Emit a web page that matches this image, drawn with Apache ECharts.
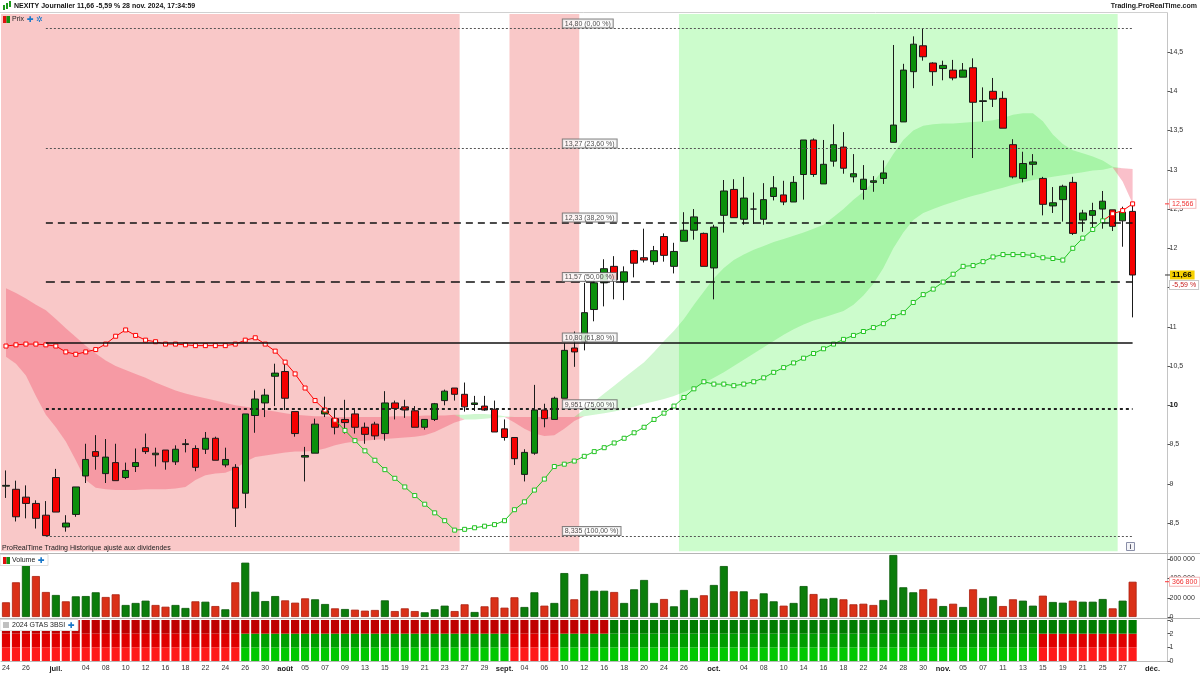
<!DOCTYPE html>
<html>
<head>
<meta charset="utf-8">
<title>NEXITY Journalier</title>
<script src="https://cdn.jsdelivr.net/npm/echarts@6/dist/echarts.min.js"></script>
<style>
html, body { margin: 0; padding: 0; background: #fff; }
#chart { width: 1200px; height: 675px; }
</style>
</head>
<body>
<div id="chart"></div>
<script>
// trading days (+ the 3 empty future slots on the right)
const dates = ['06-24','06-25','06-26','06-27','06-28',
  '07-01','07-02','07-03','07-04','07-05','07-08','07-09','07-10','07-11','07-12','07-15','07-16','07-17','07-18','07-19','07-22','07-23','07-24','07-25','07-26','07-29','07-30','07-31',
  '08-01','08-02','08-05','08-06','08-07','08-08','08-09','08-12','08-13','08-14','08-15','08-16','08-19','08-20','08-21','08-22','08-23','08-26','08-27','08-28','08-29','08-30',
  '09-02','09-03','09-04','09-05','09-06','09-09','09-10','09-11','09-12','09-13','09-16','09-17','09-18','09-19','09-20','09-23','09-24','09-25','09-26','09-27','09-30',
  '10-01','10-02','10-03','10-04','10-07','10-08','10-09','10-10','10-11','10-14','10-15','10-16','10-17','10-18','10-21','10-22','10-23','10-24','10-25','10-28','10-29','10-30','10-31',
  '11-01','11-04','11-05','11-06','11-07','11-08','11-11','11-12','11-13','11-14','11-15','11-18','11-19','11-20','11-21','11-22','11-25','11-26','11-27','11-28','11-29',
  '12-02','12-03'];

// dates that carry a tick label
const tickDates = ['06-24','06-26','07-01','07-04','07-08','07-10','07-12','07-16','07-18','07-22','07-24','07-26','07-30',
  '08-01','08-05','08-07','08-09','08-13','08-15','08-19','08-21','08-23','08-27','08-29',
  '09-02','09-04','09-06','09-10','09-12','09-16','09-18','09-20','09-24','09-26',
  '10-01','10-04','10-08','10-10','10-14','10-16','10-18','10-22','10-24','10-28','10-30',
  '11-01','11-05','11-07','11-11','11-13','11-15','11-19','11-21','11-25','11-27','12-02'];
const monthDates = ['07-01','08-01','09-02','10-01','11-01','12-02'];
const monthNames = ['juil.','août','sept.','oct.','nov.','déc.'];

const opens = [8.97,8.93,8.83,8.75,8.60,9.08,8.45,8.61,9.10,9.41,
  9.13,9.27,9.08,9.22,9.46,9.37,9.43,9.28,9.50,9.45,
  9.44,9.58,9.24,9.21,8.88,9.87,10.03,10.37,10.43,9.92,
  9.34,9.39,9.89,9.83,9.82,9.89,9.72,9.76,9.64,10.03,
  9.98,9.93,9.72,9.82,10.06,10.22,10.14,10.01,9.99,9.95,
  9.70,9.59,9.12,9.39,9.94,9.82,10.09,10.73,10.81,11.22,
  11.56,11.77,11.57,11.97,11.88,11.83,12.15,11.77,12.09,12.23,
  12.19,11.75,12.42,12.75,12.37,12.50,12.37,12.66,12.68,12.59,
  12.94,13.38,12.82,13.11,13.29,12.91,12.75,12.84,12.89,13.35,
  13.61,14.25,14.58,14.36,14.29,14.27,14.18,14.30,13.87,14.00,
  13.91,13.32,12.89,13.07,12.89,12.54,12.62,12.84,12.36,12.42,
  12.50,12.49,12.35,12.47];
const closes = [8.98,8.58,8.75,8.56,8.34,8.64,8.50,8.96,9.31,9.35,
  9.34,9.04,9.17,9.27,9.41,9.39,9.28,9.44,9.51,9.21,
  9.58,9.30,9.31,8.69,9.89,10.08,10.13,10.41,10.09,9.64,
  9.36,9.76,9.93,9.72,9.78,9.72,9.63,9.61,10.03,9.96,
  9.94,9.72,9.82,10.02,10.18,10.14,9.98,10.03,9.94,9.66,
  9.59,9.32,9.40,9.94,9.83,10.09,10.70,10.68,11.18,11.56,
  11.74,11.60,11.70,11.81,11.85,11.97,11.91,11.96,12.23,12.40,
  11.77,12.27,12.73,12.39,12.64,12.50,12.62,12.77,12.59,12.84,
  13.38,12.94,13.07,13.32,13.02,12.95,12.88,12.86,12.96,13.57,
  14.27,14.60,14.44,14.25,14.33,14.17,14.27,13.86,13.88,13.90,
  13.53,12.91,13.08,13.10,12.56,12.58,12.79,12.19,12.45,12.48,
  12.60,12.28,12.46,11.66];
const lows = [8.82,8.52,8.56,8.43,8.335,8.64,8.39,8.58,9.01,9.18,
  9.01,9.04,9.06,9.15,9.38,9.22,9.18,9.24,9.40,9.16,
  9.38,9.30,9.21,8.45,8.69,9.65,9.85,9.99,9.94,9.60,
  9.03,9.39,9.85,9.63,9.64,9.64,9.51,9.56,9.55,9.82,
  9.84,9.72,9.69,9.80,10.00,10.06,9.92,9.93,9.93,9.66,
  9.55,9.24,9.03,9.37,9.72,9.82,10.09,10.49,10.70,11.07,
  11.26,11.35,11.34,11.63,11.82,11.79,11.83,11.68,12.09,12.11,
  11.77,11.35,12.20,12.39,12.30,12.31,12.30,12.61,12.55,12.59,
  12.62,12.91,12.82,13.04,12.95,12.84,12.62,12.72,12.82,13.35,
  13.61,14.04,14.39,14.07,14.14,14.14,14.18,13.15,13.61,13.80,
  13.53,12.89,12.84,12.93,12.42,12.45,12.34,12.17,12.21,12.25,
  12.25,12.22,12.02,11.12];
const highs = [9.17,9.04,8.98,8.79,8.78,9.19,8.60,8.96,9.51,9.62,
  9.57,9.51,9.27,9.45,9.64,9.46,9.43,9.49,9.57,9.49,
  9.66,9.60,9.46,9.25,9.89,10.19,10.21,10.53,10.53,9.92,
  9.47,9.83,10.11,9.94,10.07,9.96,9.78,9.79,10.18,10.06,
  10.07,9.99,9.82,10.03,10.20,10.22,10.29,10.12,10.12,10.06,
  9.82,9.59,9.44,10.26,10.02,10.11,10.79,10.94,11.56,11.60,
  11.86,11.90,11.77,11.98,12.25,12.03,12.19,12.07,12.46,12.50,
  12.20,12.30,12.87,12.88,12.91,12.71,12.83,12.92,12.86,12.92,
  13.38,13.40,13.38,13.58,13.48,13.20,13.06,12.92,13.12,14.59,
  14.35,14.70,14.80,14.37,14.39,14.40,14.36,14.42,14.05,14.17,
  14.00,13.39,13.23,13.20,12.91,12.78,12.81,12.91,12.49,12.58,
  12.73,12.49,12.53,12.59];
const prevClose = 9.05; // close of the session before the first candle

const volumes = [153000,361000,541000,426000,260000,229000,163000,215000,218000,257000,
  208000,236000,125000,146000,170000,125000,107000,125000,94000,163000,
  159000,114000,80000,361000,565000,263000,166000,218000,173000,149000,
  194000,184000,135000,90000,83000,76000,66000,73000,173000,62000,
  90000,62000,49000,80000,118000,62000,132000,52000,111000,205000,
  97000,205000,104000,257000,118000,146000,457000,184000,447000,273000,
  273000,260000,146000,288000,385000,146000,187000,111000,281000,198000,
  226000,333000,530000,267000,267000,184000,246000,163000,118000,146000,
  322000,239000,191000,198000,184000,132000,138000,125000,177000,645000,
  309000,257000,288000,191000,114000,138000,104000,288000,198000,215000,
  114000,184000,170000,118000,222000,156000,149000,170000,159000,159000,
  187000,90000,170000,366800];

// trailing line (red above price, green below)
const trail = [10.755,10.77,10.78,10.78,10.77,10.755,10.68,10.65,10.68,10.71,
  10.78,10.88,10.96,10.89,10.83,10.81,10.78,10.78,10.77,10.76,
  10.76,10.76,10.76,10.78,10.83,10.86,10.78,10.69,10.55,10.40,
  10.22,10.06,9.94,9.81,9.68,9.55,9.42,9.30,9.18,9.07,
  8.96,8.85,8.74,8.63,8.53,8.41,8.42,8.44,8.46,8.48,
  8.53,8.67,8.77,8.92,9.06,9.22,9.25,9.29,9.35,9.41,
  9.46,9.52,9.58,9.65,9.72,9.82,9.90,9.99,10.10,10.21,
  10.30,10.27,10.27,10.25,10.27,10.30,10.35,10.42,10.48,10.54,
  10.60,10.66,10.72,10.78,10.84,10.89,10.94,10.99,11.04,11.13,
  11.18,11.31,11.41,11.48,11.57,11.67,11.77,11.78,11.83,11.89,
  11.92,11.92,11.92,11.91,11.88,11.87,11.85,12.00,12.13,12.24,
  12.35,12.44,12.48,12.566];
const trailRed = [[0, 33], [111, 113]];

// cloud edges
const cloudTop = [11.49,11.43,11.36,11.28,11.21,11.10,10.98,10.87,10.76,10.66,
  10.57,10.50,10.45,10.40,10.35,10.29,10.24,10.19,10.15,10.12,
  10.09,10.06,10.03,10.00,9.98,9.96,9.94,9.92,9.90,9.88,
  9.87,9.86,9.86,9.85,9.85,9.85,9.85,9.85,9.85,9.86,
  9.86,9.86,9.87,9.87,9.87,9.88,9.88,9.89,9.89,9.88,
  9.86,9.85,9.85,9.85,9.85,9.85,9.85,9.85,9.95,10.05,
  10.15,10.25,10.35,10.45,10.55,10.68,10.82,10.95,11.10,11.28,
  11.45,11.62,11.75,11.85,11.92,11.98,12.03,12.08,12.12,12.16,
  12.20,12.25,12.30,12.40,12.50,12.62,12.72,12.85,13.00,13.20,
  13.38,13.50,13.56,13.58,13.59,13.59,13.60,13.61,13.62,13.63,
  13.66,13.70,13.72,13.72,13.62,13.45,13.33,13.25,13.21,13.17,
  13.12,13.04,13.02,13.01];
const cloudBot = [10.62,10.53,10.38,10.12,9.88,9.72,9.54,9.30,9.05,8.95,
  8.93,8.92,8.92,8.92,8.93,8.93,8.93,8.94,8.96,9.05,
  9.11,9.13,9.14,9.19,9.28,9.34,9.36,9.38,9.40,9.41,
  9.41,9.42,9.45,9.49,9.52,9.54,9.55,9.56,9.57,9.58,
  9.59,9.60,9.62,9.66,9.72,9.78,9.82,9.82,9.83,9.84,
  9.85,9.78,9.70,9.64,9.61,9.62,9.70,9.80,9.86,9.88,
  9.90,9.92,9.95,9.98,10.02,10.05,10.08,10.12,10.17,10.22,
  10.28,10.35,10.42,10.50,10.58,10.66,10.74,10.82,10.90,10.97,
  11.03,11.08,11.12,11.16,11.20,11.28,11.40,11.55,11.75,12.00,
  12.20,12.36,12.45,12.50,12.55,12.59,12.63,12.67,12.70,12.74,
  12.77,12.81,12.84,12.87,12.89,12.91,12.93,12.95,12.97,12.99,
  13.00,13.03,12.85,12.57];
const cloudGreen = [[46, 50], [58, 111]];

// background zones (day index ranges)
const bgPink = [[0, 45], [51, 57]];
const bgGreen = [[68, 111]];

// 2024 GTAS 3BSI: ranges where each row is red
const gtasTopRed = [[0, 60]];
const gtasLowRed = [[0, 23], [51, 55], [104, 113]];

// Fibonacci retracement
const fibValues = [14.80, 13.27, 12.33, 11.57, 10.80, 9.951, 8.335];
const fibLabels = ['14,80 (0,00 %)', '13,27 (23,60 %)', '12,33 (38,20 %)', '11,57 (50,00 %)',
  '10,80 (61,80 %)', '9,951 (75,00 %)', '8,335 (100,00 %)'];
const fibFrom = 4, fibTo = 113, fibLabelAt = 56;

const lastPrice = 11.66;
const lastPriceText = '11,66';
const lastPctText = '-5,59 %';
const trailLast = 12.566;
const trailLastText = '12,566';
const lastVolume = 366800;
const lastVolumeText = '366 800';

// ---------------------------------------------------------------
const FONT = '"Liberation Sans", Arial, sans-serif';
const N = closes.length;
const chart = echarts.init(document.getElementById('chart'));

function inRanges(i, ranges) {
  return ranges.some(r => i >= r[0] && i <= r[1]);
}

const fibStyles = [
  {type: [2, 2], color: '#555', width: 1},
  {type: [2, 2], color: '#555', width: 1},
  {type: [7, 5], color: '#111', width: 1.5},
  {type: [9, 6], color: '#111', width: 1.5},
  {type: 'solid', color: '#111', width: 1.5},
  {type: [3, 3], color: '#222', width: 2},
  {type: [2, 2], color: '#555', width: 1}
];

// price panel vertical extent (the price axis runs 8..15 under the other panels)
const panelLow = 8.14, panelHigh = 14.985;
const bgZoneData = bgPink.map(r => [r[0], r[1], panelLow, panelHigh, 0])
  .concat(bgGreen.map(r => [r[0], r[1], panelLow, panelHigh, 1]));
const bgZoneColors = ['#f9c8c8', '#ccfccc'];

const cloudPinkH = [], cloudGreenH = [];
const trailRedData = [], trailGreenData = [];
const volData = [];
const gtasTop = [], gtasMid = [], gtasBot = [];

for (let i = 0; i < N; i++) {
  const w = +(cloudTop[i] - cloudBot[i]).toFixed(3);
  const g = inRanges(i, cloudGreen);
  cloudPinkH.push(g ? 0 : w);
  cloudGreenH.push(g ? w : 0);

  const red = inRanges(i, trailRed);
  const nextRed = i + 1 < N && inRanges(i + 1, trailRed);
  if (red) trailRedData.push(trail[i]);
  else if (nextRed) trailRedData.push({value: trail[i], symbol: 'none'});
  else trailRedData.push('-');
  if (!red) trailGreenData.push(trail[i]);
  else if (i + 1 < N && !nextRed) trailGreenData.push({value: trail[i], symbol: 'none'});
  else trailGreenData.push('-');

  const up = closes[i] >= (i === 0 ? prevClose : closes[i - 1]);
  volData.push({value: volumes[i], itemStyle: {
    color: up ? '#0b7d0b' : '#da3118', borderColor: up ? '#065806' : '#a9200f', borderWidth: 0.8}});

  const topRed = inRanges(i, gtasTopRed), lowRed = inRanges(i, gtasLowRed);
  gtasTop.push({value: 1, itemStyle: {color: topRed ? '#bf0000' : '#007c00'}});
  gtasMid.push({value: 1, itemStyle: {color: lowRed ? '#e00000' : '#009e00'}});
  gtasBot.push({value: 1, itemStyle: {color: lowRed ? '#ff1a1a' : '#00c800'}});
}

const candleData = opens.map((o, i) => [o, closes[i], lows[i], highs[i]]);

function fmtPrice(v) {
  const r = Math.round(v * 10) / 10;
  if (r === 10) return '{b|10}';
  return (Number.isInteger(r) ? String(r) : r.toFixed(1)).replace('.', ',');
}
function fmtVol(v) {
  return String(Math.round(v)).replace(/\B(?=(\d{3})+(?!\d))/g, ' ');
}

const gridCommon = {left: 1, right: 32.5, outerBoundsMode: 'none', containLabel: false};
const yCommon = {
  type: 'value', position: 'right', splitLine: {show: false},
  axisLine: {show: true, lineStyle: {color: '#c4c4c4'}},
  axisTick: {show: true, length: 3, lineStyle: {color: '#555'}},
  axisLabel: {fontSize: 7, color: '#333', margin: 2, fontFamily: FONT}
};

const option = {
  animation: false,
  backgroundColor: '#fff',
  textStyle: {fontFamily: FONT},
  grid: [
    Object.assign({top: 12.8, bottom: 112.7}, gridCommon),
    Object.assign({top: 554.5, height: 62.5}, gridCommon),
    Object.assign({top: 620, height: 41}, gridCommon)
  ],
  xAxis: [0, 1, 2].map(g => ({
    type: 'category', gridIndex: g, data: dates, boundaryGap: true, show: g === 2,
    axisTick: {show: false},
    axisLine: {show: true, lineStyle: {color: '#bbb'}},
    axisLabel: {
      interval: 0, fontSize: 7, color: '#333', margin: 4, fontFamily: FONT,
      formatter: val => {
        const m = monthDates.indexOf(val);
        if (m >= 0) return '{b|' + monthNames[m] + '}';
        return tickDates.indexOf(val) >= 0 ? val.slice(3) : '';
      },
      rich: {b: {fontWeight: 'bold', fontSize: 7.5, color: '#222', fontFamily: FONT}}
    }
  })),
  yAxis: [
    Object.assign({}, yCommon, {gridIndex: 0, min: 8, max: 15, interval: 0.5,
      axisLabel: Object.assign({}, yCommon.axisLabel, {showMinLabel: false, showMaxLabel: false,
        formatter: fmtPrice, rich: {b: {fontWeight: 'bold', fontSize: 7.5, color: '#111'}}})}),
    Object.assign({}, yCommon, {gridIndex: 1, min: 0, max: 650000, interval: 200000,
      axisLabel: Object.assign({}, yCommon.axisLabel, {showMaxLabel: false, formatter: fmtVol})}),
    Object.assign({}, yCommon, {gridIndex: 2, min: 0, max: 3, interval: 1,
      axisLabel: Object.assign({}, yCommon.axisLabel)})
  ],
  series: [
    {name: 'zones', type: 'custom', xAxisIndex: 0, yAxisIndex: 0, z: 0, silent: true,
      data: bgZoneData, encode: {x: [0, 1], y: [2, 3]},
      renderItem: (params, api) => {
        const a = api.coord([api.value(0), api.value(3)]);
        const b = api.coord([api.value(1), api.value(2)]);
        const band = api.size([1, 0])[0];
        return {type: 'rect', silent: true,
          shape: {x: a[0] - band / 2, y: a[1], width: b[0] - a[0] + band, height: b[1] - a[1]},
          style: {fill: bgZoneColors[api.value(4)]}};
      }},
    {name: 'cloudBase', type: 'line', xAxisIndex: 0, yAxisIndex: 0, stack: 'cloud', data: cloudBot,
      symbol: 'none', lineStyle: {width: 0, opacity: 0}, z: 1, silent: true},
    {name: 'cloudPink', type: 'line', xAxisIndex: 0, yAxisIndex: 0, stack: 'cloud', data: cloudPinkH,
      symbol: 'none', lineStyle: {width: 0, opacity: 0}, z: 1, silent: true,
      areaStyle: {color: 'rgba(238,60,90,0.32)', opacity: 1}},
    {name: 'cloudGreen', type: 'line', xAxisIndex: 0, yAxisIndex: 0, stack: 'cloud', data: cloudGreenH,
      symbol: 'none', lineStyle: {width: 0, opacity: 0}, z: 1, silent: true,
      areaStyle: {color: 'rgba(20,215,20,0.2)', opacity: 1}},
    {name: 'Prix', type: 'candlestick', xAxisIndex: 0, yAxisIndex: 0, data: candleData,
      barWidth: 7, z: 3,
      itemStyle: {color: '#0c8f0c', color0: '#f50000', borderColor: '#1b1b1b', borderColor0: '#1b1b1b', borderWidth: 1},
      markLine: {
        silent: true, symbol: ['none', 'none'], label: {show: false}, animation: false,
        data: fibValues.map((v, k) => [
          {coord: [fibFrom, v], lineStyle: fibStyles[k]},
          {coord: [fibTo, v]}
        ])
      }},
    {name: 'trailRed', type: 'line', xAxisIndex: 0, yAxisIndex: 0, data: trailRedData, z: 4,
      symbol: 'rect', symbolSize: 4, showAllSymbol: true,
      lineStyle: {color: '#f00', width: 1},
      itemStyle: {color: '#fff', borderColor: '#f00', borderWidth: 1}},
    {name: 'trailGreen', type: 'line', xAxisIndex: 0, yAxisIndex: 0, data: trailGreenData, z: 4,
      symbol: 'rect', symbolSize: 4, showAllSymbol: true,
      lineStyle: {color: '#22c322', width: 1},
      itemStyle: {color: '#fff', borderColor: '#22c322', borderWidth: 1}},
    {name: 'fibLabels', type: 'scatter', xAxisIndex: 0, yAxisIndex: 0, z: 10, silent: true,
      symbolSize: 0, data: fibValues.map(v => [fibLabelAt, v]),
      label: {show: true, position: [-1.5, -1], align: 'left', verticalAlign: 'bottom',
        formatter: p => fibLabels[p.dataIndex], fontSize: 7, color: '#222', fontFamily: FONT,
        backgroundColor: '#fff', borderColor: '#666', borderWidth: 1, padding: [1, 2, 0, 2]}},
    {name: 'Volume', type: 'bar', xAxisIndex: 1, yAxisIndex: 1, data: volData, barWidth: 8},
    {name: 'gtas0', type: 'bar', xAxisIndex: 2, yAxisIndex: 2, stack: 'g', data: gtasBot, barWidth: 8.2},
    {name: 'gtas1', type: 'bar', xAxisIndex: 2, yAxisIndex: 2, stack: 'g', data: gtasMid, barWidth: 8.2},
    {name: 'gtas2', type: 'bar', xAxisIndex: 2, yAxisIndex: 2, stack: 'g', data: gtasTop, barWidth: 8.2}
  ]
};
chart.setOption(option);

// overlay texts and value tags
function txt(x, y, text, font, fill, extra) {
  return {type: 'text', x: x, y: y, z: 100, silent: true,
    style: Object.assign({text: text, font: font, fill: fill, align: 'left', textAlign: 'left',
      verticalAlign: 'middle', textVerticalAlign: 'middle'}, extra || {})};
}
const f7 = '7px ' + FONT, f7b = 'bold 7px ' + FONT;
const yTrail = chart.convertToPixel({yAxisIndex: 0}, trailLast);
const yLast = chart.convertToPixel({yAxisIndex: 0}, lastPrice);
const yVol = chart.convertToPixel({yAxisIndex: 1}, lastVolume);
const tagX = 1170;

const gfx = [
  {type: 'line', z: 90, silent: true, shape: {x1: 0, y1: 553.5, x2: 1200, y2: 553.5}, style: {stroke: '#b5b5b5', lineWidth: 1}},
  {type: 'line', z: 90, silent: true, shape: {x1: 0, y1: 618.5, x2: 1200, y2: 618.5}, style: {stroke: '#b5b5b5', lineWidth: 1}},
  {type: 'line', z: 90, silent: true, shape: {x1: 0, y1: 12.5, x2: 1167.5, y2: 12.5}, style: {stroke: '#d0d0d0', lineWidth: 1}},
  // title
  {type: 'rect', z: 100, silent: true, shape: {x: 3, y: 5, width: 2, height: 5}, style: {fill: '#1a9a1a'}},
  {type: 'rect', z: 100, silent: true, shape: {x: 6, y: 3, width: 2, height: 6}, style: {fill: '#1a9a1a'}},
  {type: 'rect', z: 100, silent: true, shape: {x: 9, y: 1, width: 2, height: 6}, style: {fill: '#1a9a1a'}},
  txt(14, 6.5, 'NEXITY Journalier 11,66 -5,59 % 28 nov. 2024, 17:34:59', f7b, '#111'),
  txt(1197, 6.5, 'Trading.ProRealTime.com', f7b, '#222', {align: 'right', textAlign: 'right'}),
  // price panel legend
  {type: 'rect', z: 100, silent: true, shape: {x: 3, y: 16, width: 3.5, height: 7}, style: {fill: '#e01010'}},
  {type: 'rect', z: 100, silent: true, shape: {x: 6.5, y: 16, width: 3.5, height: 7}, style: {fill: '#129012'}},
  txt(12, 19.5, 'Prix', f7, '#222'),
  txt(27, 19.5, '\u271A', 'bold 8px "DejaVu Sans"', '#1877c9'),
  txt(36, 19.5, '\u2732', '8px "DejaVu Sans"', '#1877c9'),
  txt(2, 548, 'ProRealTime Trading Historique ajusté aux dividendes', f7, '#222'),
  {type: 'rect', z: 100, silent: true, shape: {x: 1126.5, y: 542.5, width: 8, height: 8},
    style: {fill: '#f4f4f8', stroke: '#8a8fa8', lineWidth: 1}},
  txt(1130.5, 546.8, 'i', 'bold 7px ' + FONT, '#556', {align: 'center', textAlign: 'center'}),
  // volume legend
  {type: 'rect', z: 99, silent: true, shape: {x: 0, y: 554.5, width: 48, height: 11}, style: {fill: '#fff', stroke: '#ddd'}},
  {type: 'rect', z: 100, silent: true, shape: {x: 3, y: 557, width: 3.5, height: 7}, style: {fill: '#e01010'}},
  {type: 'rect', z: 100, silent: true, shape: {x: 6.5, y: 557, width: 3.5, height: 7}, style: {fill: '#129012'}},
  txt(12, 560.5, 'Volume', f7, '#222'),
  txt(38, 560.5, '\u271A', 'bold 8px "DejaVu Sans"', '#1877c9'),
  // indicator legend
  {type: 'rect', z: 99, silent: true, shape: {x: 0, y: 619.5, width: 78, height: 11}, style: {fill: '#fff', stroke: '#ddd'}},
  {type: 'rect', z: 100, silent: true, shape: {x: 3, y: 622, width: 6, height: 6}, style: {fill: '#c0c0c0'}},
  txt(12, 625.5, '2024 GTAS 3BSI', f7, '#222'),
  txt(68, 625.5, '\u271A', 'bold 8px "DejaVu Sans"', '#1877c9'),
  // right tags
  {type: 'line', z: 100, silent: true, shape: {x1: 1165, y1: yTrail, x2: 1170, y2: yTrail}, style: {stroke: '#f33', lineWidth: 1}},
  txt(tagX, yTrail, trailLastText, f7, '#f03030', {backgroundColor: '#fff', borderColor: '#f4b4b4', borderWidth: 1, padding: [1, 2, 0, 2]}),
  {type: 'line', z: 100, silent: true, shape: {x1: 1165, y1: yLast, x2: 1170, y2: yLast}, style: {stroke: '#333', lineWidth: 1}},
  txt(tagX, yLast, lastPriceText, 'bold 8px ' + FONT, '#000', {backgroundColor: '#f6d000', padding: [1, 3, 0, 2]}),
  txt(tagX, yLast + 10, lastPctText, f7, '#c82020', {backgroundColor: '#fff', borderColor: '#c8c8c8', borderWidth: 1, padding: [1, 2, 0, 2]}),
  {type: 'line', z: 100, silent: true, shape: {x1: 1165, y1: yVol, x2: 1170, y2: yVol}, style: {stroke: '#f33', lineWidth: 1}},
  txt(tagX, yVol, lastVolumeText, f7, '#f03030', {backgroundColor: '#fff', borderColor: '#f4b4b4', borderWidth: 1, padding: [1, 2, 0, 2]})
];
chart.setOption({graphic: gfx});
</script>
</body>
</html>
